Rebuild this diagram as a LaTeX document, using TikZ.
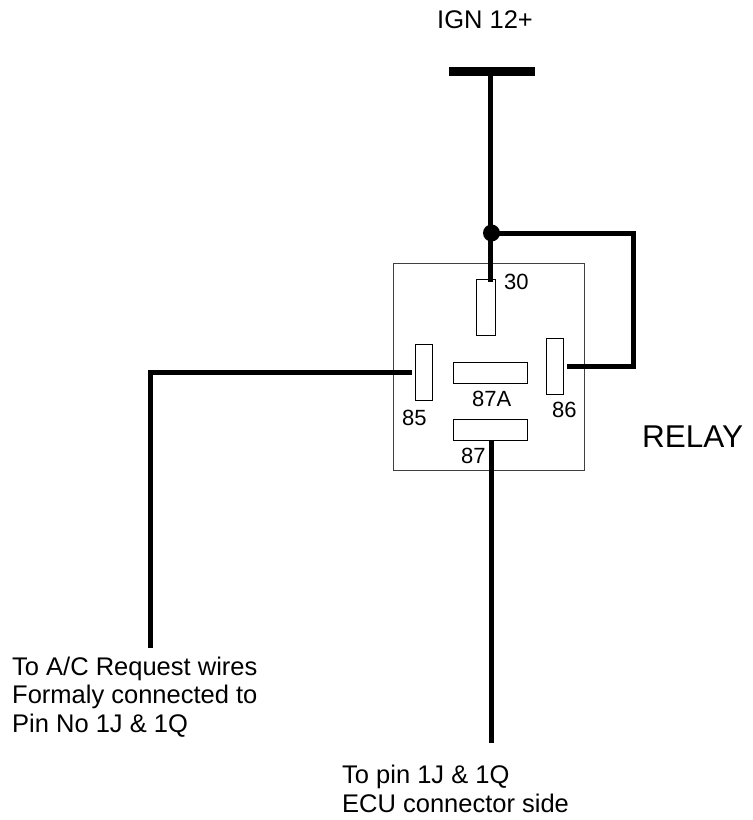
\documentclass[tikz,border=0pt]{standalone}
\usepackage{fontspec}
\setmainfont{Liberation Sans}
\usetikzlibrary{positioning}

\tikzset{
  wire/.style={line width=5pt,line cap=butt,line join=miter},
  pin/.style={draw,line width=1pt,inner sep=0pt},
  pinlbl/.style={anchor=base west,inner sep=0pt,font=\fontsize{22}{26}\selectfont},
  txt/.style={anchor=base west,inner sep=0pt,align=left,font=\fontsize{25.5}{28.5}\selectfont}
}

\begin{document}
\begin{tikzpicture}[x=1pt,y=-1pt]
    \useasboundingbox (0,0) rectangle (753,820);
    % relay body
    \node[draw=black!75,line width=0.8pt,minimum width=191pt,minimum height=207pt,inner sep=0pt] (relay) at (488.5,366.5) {};
    \foreach \n/\x/\y/\w/\h in {30/485.5/307/19/56,85/423.5/372/17/56,86/554.5/366/17/56,87A/490/372.5/74/21,87/490/429.5/74/21}
    {
        \node[pin,minimum width=\w pt,minimum height=\h pt] (pin\n) at (\x,\y) {};
    }
    \foreach \n/\x/\y in {30/504/289,87A/472/406,85/402/425,86/552/417,87/461/463}
    {
        \node[pinlbl] at (\x,\y) {\n};
    }
    % supply
    \node[fill,minimum width=86pt,minimum height=9pt,inner sep=0pt] (ign) at (492,71.5) {};
    \node[txt] (igntxt) at (437,28) {IGN 12+};
    \coordinate (jn) at (490,233);
    \coordinate (loop) at (633,233);
    \coordinate (ac) at (150,648);
    \coordinate (ecu) at (491,743);
    \draw[wire] (ign.center -| jn) -- (jn) -- ([yshift=-3pt]jn |- pin30.north);
    \draw[wire] (jn) -- (loop) |- ([xshift=3pt]pin86.east);
    \fill (491.5,233) circle (8.5pt);
    \draw[wire] ([xshift=-3pt]pin85.west) -| (ac);
    \draw[wire] (ecu |- pin87.south) -- (ecu);
    % texts
    \node[txt,font=\fontsize{31.5}{36}\selectfont] (rly) at (642,447) {RELAY};
    \node[txt] (actxt) at (12,732) {To A/C Request wires\\Formaly connected to\\Pin No 1J \& 1Q};
    \node[txt] (ecutxt) at (342,812) {To pin 1J \& 1Q\\ECU connector side};
\end{tikzpicture}
\end{document}
